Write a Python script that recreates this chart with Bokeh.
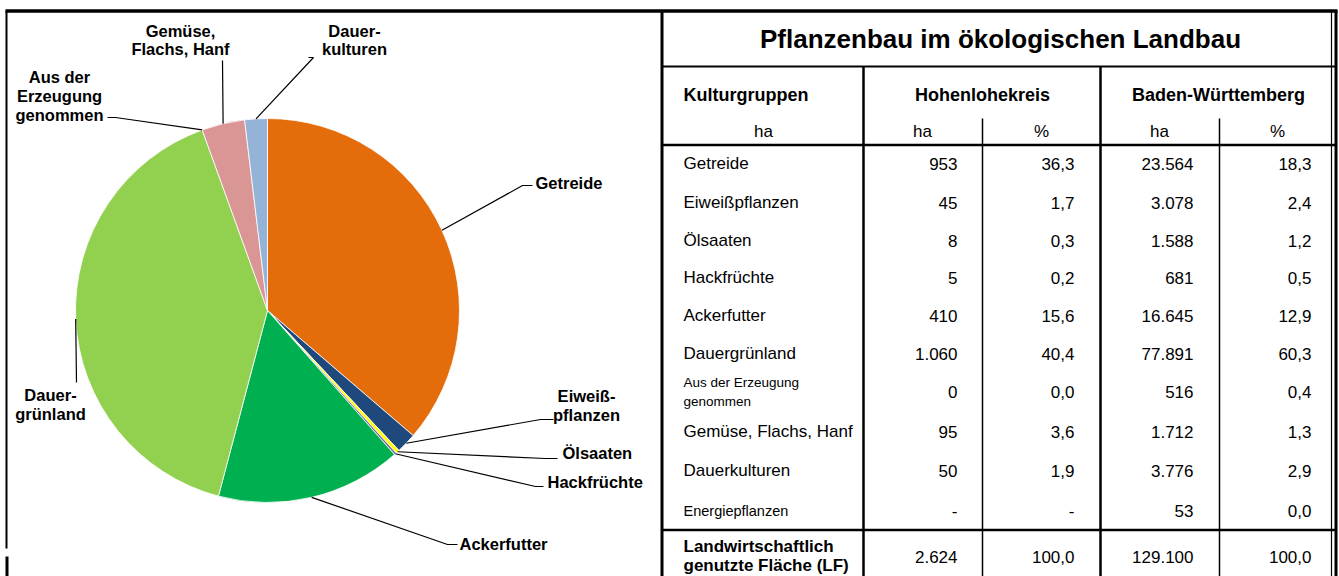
import math
from bokeh.plotting import figure
from bokeh.models import Range1d
from bokeh.core.properties import value
from bokeh.embed import file_html
from bokeh.resources import INLINE

# ---------------- data ----------------
table_title = "Pflanzenbau im ökologischen Landbau"
head_group = "Kulturgruppen"
head_hk = "Hohenlohekreis"
head_bw = "Baden-Württemberg"
sub_heads = ["ha", "ha", "%", "ha", "%"]

categories = ["Getreide", "Eiweißpflanzen", "Ölsaaten", "Hackfrüchte", "Ackerfutter",
              "Dauergrünland", "Aus der Erzeugung\ngenommen", "Gemüse, Flachs, Hanf",
              "Dauerkulturen", "Energiepflanzen"]
hk_ha = [953, 45, 8, 5, 410, 1060, 0, 95, 50, None]
hk_pct = [36.3, 1.7, 0.3, 0.2, 15.6, 40.4, 0.0, 3.6, 1.9, None]
bw_ha = [23564, 3078, 1588, 681, 16645, 77891, 516, 1712, 3776, 53]
bw_pct = [18.3, 2.4, 1.2, 0.5, 12.9, 60.3, 0.4, 1.3, 2.9, 0.0]

total_label = "Landwirtschaftlich\ngenutzte Fläche (LF)"
hk_total_ha = 2624
hk_total_pct = 100.0
bw_total_ha = 129100
bw_total_pct = 100.0

pie_labels = ["Getreide", "Eiweiß-\npflanzen", "Ölsaaten", "Hackfrüchte", "Ackerfutter",
              "Dauer-\ngrünland", "Aus der\nErzeugung\ngenommen", "Gemüse,\nFlachs, Hanf",
              "Dauer-\nkulturen"]
pie_values = hk_ha[:9]
pie_colors = ["#E46C0A", "#1F497D", "#FFFF00", "#8064A2", "#00B050",
              "#92D050", "#4BACC6", "#D99694", "#95B3D7"]

# ---------------- layout (page pixel coordinates) ----------------
W, H = 1339, 576
def Y(v):
    return H - v

FONT = value("Liberation Sans")

p = figure(width=W, height=H, x_range=Range1d(0, W), y_range=Range1d(0, H),
           output_backend="svg", toolbar_location=None,
           x_axis_location=None, y_axis_location=None, min_border=0)
p.outline_line_color = None
p.grid.visible = False
p.background_fill_color = "white"
p.border_fill_color = "white"

# ---- pie ----
cx, cy, R = 267, 310, 192
total = sum(pie_values)
starts, ends, mids = [], [], []
cum = 0.0
for v in pie_values:
    f0 = cum / total
    cum += v
    f1 = cum / total
    starts.append(math.pi / 2 - 2 * math.pi * f0)
    ends.append(math.pi / 2 - 2 * math.pi * f1)
    mids.append((f0 + f1) / 2)

idx = [i for i, v in enumerate(pie_values) if v > 0]
p.wedge(x=[cx] * len(idx), y=[Y(cy)] * len(idx), radius=R, radius_units="screen",
        start_angle=[starts[i] for i in idx], end_angle=[ends[i] for i in idx],
        direction="clock", fill_color=[pie_colors[i] for i in idx],
        line_color="white", line_width=0.8)

# label placement: (x, first line y, line step, align, leader points after edge)
label_pos = [
    (535, 182, 19, "left", [(522, 185), (532, 185)]),
    (586, 395, 19, "center", [(540, 419), (553, 419)]),
    (562, 452, 19, "left", [(545, 458), (557, 458)]),
    (547, 481, 19, "left", [(535, 486), (543, 486)]),
    (459, 543, 19, "left", [(447, 544), (457, 544)]),
    (50, 394, 19, "center", [(76, 382)]),
    (59, 76, 19, "center", [(115, 117), (107, 117)]),
    (180, 30.5, 18, "center", [(222, 60)]),
    (354, 30.5, 18, "center", [(313, 57), (308, 57)]),
]
lx, ly = [], []
tx, ty, tt, ta = [], [], [], []
for i, lab in enumerate(pie_labels):
    x0, y0, step, align, pts = label_pos[i]
    a = 2 * math.pi * mids[i]
    ex = cx + R * math.sin(a)
    ey = cy - R * math.cos(a)
    lx.append([ex] + [q[0] for q in pts])
    ly.append([Y(ey)] + [Y(q[1]) for q in pts])
    for k, line in enumerate(lab.split("\n")):
        tx.append(x0)
        ty.append(Y(y0 + k * step))
        tt.append(line)
        ta.append(align)
p.multi_line(xs=lx, ys=ly, line_color="black", line_width=1.2)
p.text(x=tx, y=ty, text=tt, text_align=ta, text_baseline="middle",
       text_font=FONT, text_font_style="bold", text_font_size="16.5px", text_color="black")

# ---- table ----
def fmt_int(v):
    return "-" if v is None else f"{v:,}".replace(",", ".")

def fmt_pct(v):
    return "-" if v is None else f"{v:.1f}".replace(".", ",")

p.text(x=[1000], y=[Y(38)], text=[table_title], text_align="center", text_baseline="middle",
       text_font=FONT, text_font_style="bold", text_font_size="26px", text_color="black")
p.text(x=[683, 982, 1218], y=[Y(94)] * 3, text=[head_group, head_hk, head_bw],
       text_align=["left", "center", "center"], text_baseline="middle",
       text_font=FONT, text_font_style="bold", text_font_size="18px", text_color="black")
p.text(x=[763, 922, 1041, 1159, 1277], y=[Y(131)] * 5, text=sub_heads,
       text_align="center", text_baseline="middle",
       text_font=FONT, text_font_size="17px", text_color="black")

row_y = [163, 202, 240, 277, 315, 353, 391, 431, 470, 510]
col_right = [957, 1074, 1193, 1311]
small_sizes = {6: "13.5px", 9: "14.5px"}

nx, ny, nt = [], [], []
sx, sy, st, ss = [], [], [], []
for i, cat in enumerate(categories):
    lines = cat.split("\n")
    if i in small_sizes:
        for k, line in enumerate(lines):
            sx.append(683)
            sy.append(Y(row_y[i] - 9.5 * (len(lines) - 1) + 19 * k))
            st.append(line)
            ss.append(small_sizes[i])
    else:
        nx.append(683); ny.append(Y(row_y[i])); nt.append(cat)
vx, vy, vt = [], [], []
for i in range(len(categories)):
    vals = [fmt_int(hk_ha[i]), fmt_pct(hk_pct[i]), fmt_int(bw_ha[i]), fmt_pct(bw_pct[i])]
    for c, s in enumerate(vals):
        vx.append(col_right[c]); vy.append(Y(row_y[i])); vt.append(s)
for c, s in enumerate([fmt_int(hk_total_ha), fmt_pct(hk_total_pct),
                       fmt_int(bw_total_ha), fmt_pct(bw_total_pct)]):
    vx.append(col_right[c]); vy.append(Y(556)); vt.append(s)

p.text(x=nx, y=ny, text=nt, text_align="left", text_baseline="middle",
       text_font=FONT, text_font_size="17px", text_color="black")
p.text(x=sx, y=sy, text=st, text_align="left", text_baseline="middle",
       text_font=FONT, text_font_size=ss, text_color="black")
p.text(x=vx, y=vy, text=vt, text_align="right", text_baseline="middle",
       text_font=FONT, text_font_size="17px", text_color="black")
tl = total_label.split("\n")
p.text(x=[683, 683], y=[Y(546), Y(565)], text=tl, text_align="left", text_baseline="middle",
       text_font=FONT, text_font_style="bold", text_font_size="17px", text_color="black")

# ---- frame / grid lines ----
def seg(x0, y0, x1, y1, w):
    p.segment(x0=[x0], y0=[Y(y0)], x1=[x1], y1=[Y(y1)], line_color="black", line_width=w)

seg(5, 10.5, 1337, 10.5, 3.5)      # top border
seg(6, 10, 6, 548, 2)              # left border
seg(6.5, 556, 6.5, 576, 3)
seg(1331, 10, 1331, 576, 1.2)      # right borders
seg(1335.5, 10, 1335.5, 576, 3)
seg(661.5, 10, 661.5, 576, 3)      # separator pie / table
seg(661, 66, 1335, 66, 2)          # below title
seg(661, 144.5, 1335, 144.5, 2.5)  # below header
seg(661, 529.5, 1335, 529.5, 2.5)  # above total row
seg(863, 66, 863, 576, 2.5)
seg(1100, 66, 1100, 576, 2.5)
seg(982, 118, 982, 576, 1.5)
seg(1219, 118, 1219, 576, 1.5)

open("out.html", "w").write(file_html(p, INLINE))
